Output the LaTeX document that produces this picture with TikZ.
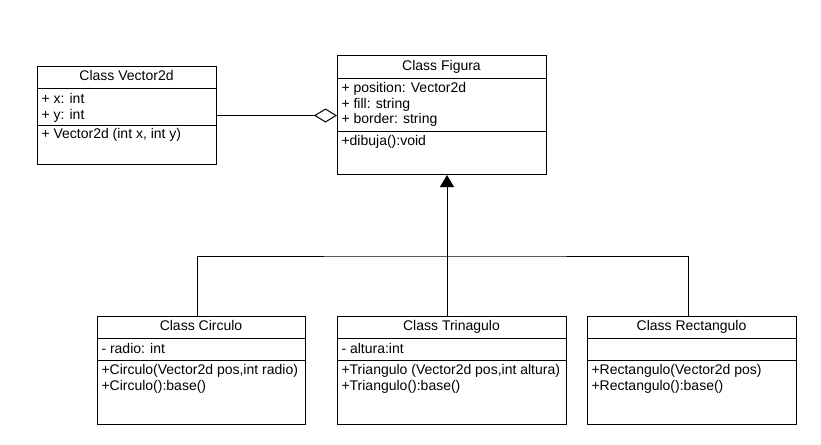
\documentclass[tikz,border=0pt]{standalone}
\usepackage{fontspec}
\setmainfont{Liberation Sans}
\usetikzlibrary{arrows.meta}

\begin{document}
\begin{tikzpicture}[x=1pt,y=-1pt,line width=1pt]
\tikzstyle{every node}=[font=\fontsize{14}{16}\selectfont]
\tikzstyle{cls}=[draw,anchor=north west,inner sep=0pt]
\tikzstyle{title}=[inner sep=0pt,text height=10pt,text depth=3pt]
\tikzstyle{member}=[anchor=west,inner sep=0pt,text height=10pt,text depth=3pt]
\tikzstyle{aggr}=[-{Diamond[open,fill=white,length=23pt,width=14pt]}]
\tikzstyle{inherit}=[-{Triangle[length=12pt,width=14pt]}]
\def \dy {15.5}
\useasboundingbox (0,0) rectangle (821,444);

% class boxes
\node [cls,minimum width=179,minimum height=98]  (vec) at ( 37, 66) {};
\node [cls,minimum width=209,minimum height=119] (fig) at (337, 55) {};
\node [cls,minimum width=208,minimum height=108] (cir) at ( 97,316) {};
\node [cls,minimum width=229,minimum height=108] (tri) at (337,316) {};
\node [cls,minimum width=209,minimum height=108] (rec) at (587,316) {};

% compartments
\draw (37, 88) -- ++(179,0)  (37,125) -- ++(179,0);
\draw (337,78) -- ++(209,0)  (337,131) -- ++(209,0);
\draw (97,338) -- ++(208,0)  (97,360) -- ++(208,0);
\draw (337,338) -- ++(229,0) (337,360) -- ++(229,0);
\draw (587,338) -- ++(209,0) (587,360) -- ++(209,0);

% titles
\node [title] (vecname) at (126.5, 77) {Class Vector2d};
\node [title] (figname) at (441.5, 67) {Class Figura};
\node [title] (cirname) at (201,  327) {Class Circulo};
\node [title] (triname) at (451.5,327) {Class Trinagulo};
\node [title] (recname) at (691.5,327) {Class Rectangulo};

% members
\path
  ( 41,100) node [member] (vecx)   {+ x: int}
++(0,\dy)   node [member] (vecy)   {+ y: int}
  ( 41,135) node [member] (vecnew) {+ Vector2d (int x, int y)}
  (341, 89) node [member] (figpos) {+ position: Vector2d}
++(0,\dy)   node [member] (figfill){+ fill: string}
++(0,\dy)   node [member] (figbor) {+ border: string}
  (341,142) node [member] (figdib) {+dibuja():void}
  (101,350) node [member] (cirrad) {- radio: int}
  (101,371) node [member] (cirnew) {+Circulo(Vector2d pos,int radio)}
++(0,\dy)   node [member] (cirbase){+Circulo():base()}
  (341,350) node [member] (trialt) {- altura:int}
  (341,371) node [member] (trinew) {+Triangulo (Vector2d pos,int altura)}
++(0,\dy)   node [member] (tribase){+Triangulo():base()}
  (591,371) node [member] (recnew) {+Rectangulo(Vector2d pos)}
++(0,\dy)   node [member] (recbase){+Rectangulo():base()}
;

% relations
\coordinate (hub) at (447,256);
\draw [aggr] (vec.east) -- (vec.east -| fig.west);
\draw ([xshift=-4]cir.north) |- (hub) -| ([xshift=-4]rec.north);
\draw [inherit] (tri.north -| hub) -- (fig.south -| hub);
\end{tikzpicture}
\end{document}
